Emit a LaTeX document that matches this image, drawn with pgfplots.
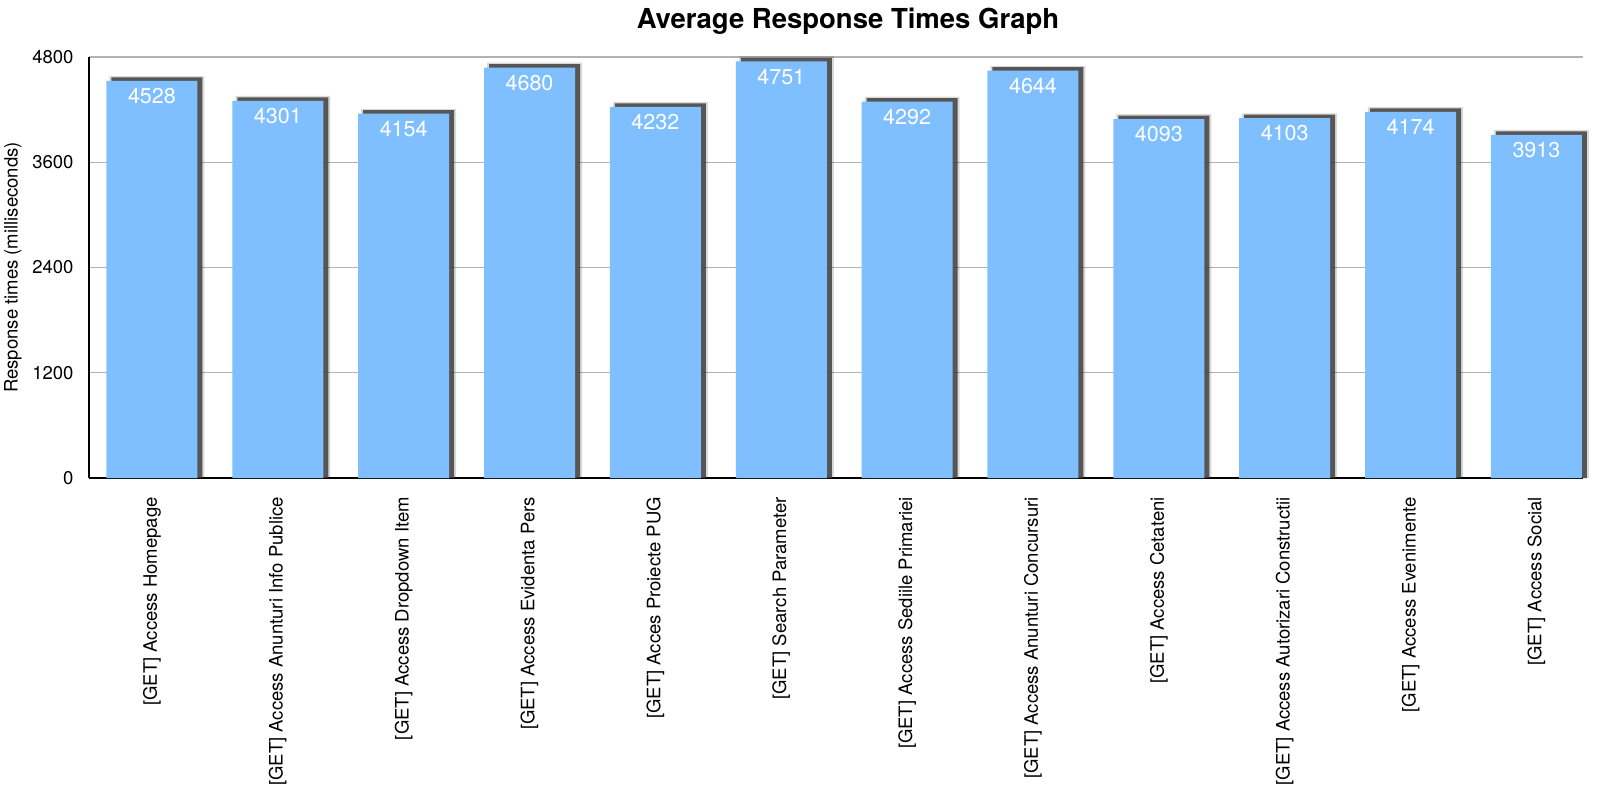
\documentclass[border=0pt]{standalone}
\usepackage{fontspec}
\setmainfont{TeX Gyre Heros}
\usepackage{pgfplots}
\pgfplotsset{compat=1.18}
\definecolor{barblue}{RGB}{128,191,255}
\pgfplotstableread{
x y
0 4528
1 4301
2 4154
3 4680
4 4232
5 4751
6 4292
7 4644
8 4093
9 4103
10 4174
11 3913
}\datatable
\begin{document}
\begin{tikzpicture}
\begin{axis}[
  scale only axis, width=1494bp, height=421bp,
  xmin=-0.5, xmax=11.37, ymin=0, ymax=4800,
  ytick={0,1200,2400,3600,4800},
  xtick={0,...,11},
  xticklabels={{[GET] Access Homepage},{[GET] Access Anunturi Info Publice},{[GET] Access Dropdown Item},{[GET] Access Evidenta Pers},{[GET] Acces Proiecte PUG},{[GET] Search Parameter},{[GET] Access Sediile Primariei},{[GET] Access Anunturi Concursuri},{[GET] Access Cetateni},{[GET] Access Autorizari Constructii},{[GET] Access Evenimente},{[GET] Access Social}},
  axis x line*=bottom, axis y line*=left,
  axis line style={-, black, line width=1.2bp},
  ymajorgrids, grid style={black!30, line width=1.2bp},
  major tick length=0pt,
  /pgf/number format/assume math mode=true,
  /pgf/number format/1000 sep={},
  tick label style={font=\fontsize{18.5bp}{21bp}\selectfont},
  xtick pos=bottom,
  yticklabel style={anchor=east, xshift=-12bp},
  xticklabel style={rotate=90, anchor=east, inner sep=0pt, xshift=-19bp},
  ylabel={Response times (milliseconds)},
  every axis y label/.style={at={(axis description cs:0,0.5)}, rotate=90, anchor=center, yshift=76bp, font=\fontsize{18.5bp}{21bp}\selectfont},
  clip=false,
]
\addplot[ybar, bar width=95bp, bar shift=5bp, fill=black, draw=none, opacity=0.15, y filter/.expression={y+55}, forget plot] table[x=x,y=y]{\datatable};
\addplot[ybar, bar width=91bp, bar shift=5bp, fill=black!75, draw=none, opacity=0.85, y filter/.expression={y+40}, forget plot] table[x=x,y=y]{\datatable};
\addplot[ybar, bar width=91bp, bar shift=0bp, fill=barblue, draw=none,
  nodes near coords,
  every node near coord/.append style={anchor=north, text=white, yshift=-4bp, font=\fontsize{21.5bp}{24bp}\selectfont}] table[x=x,y=y]{\datatable};
\coordinate (O) at (rel axis cs:0,0);
\end{axis}
\node[font=\bfseries\fontsize{27.5bp}{32bp}\selectfont] at ([shift={(759bp,457bp)}]O) {Average Response Times Graph};
\pgfresetboundingbox
\path ([shift={(-89bp,-311bp)}]O) rectangle ++(1599bp,789bp);
\end{tikzpicture}
\end{document}
